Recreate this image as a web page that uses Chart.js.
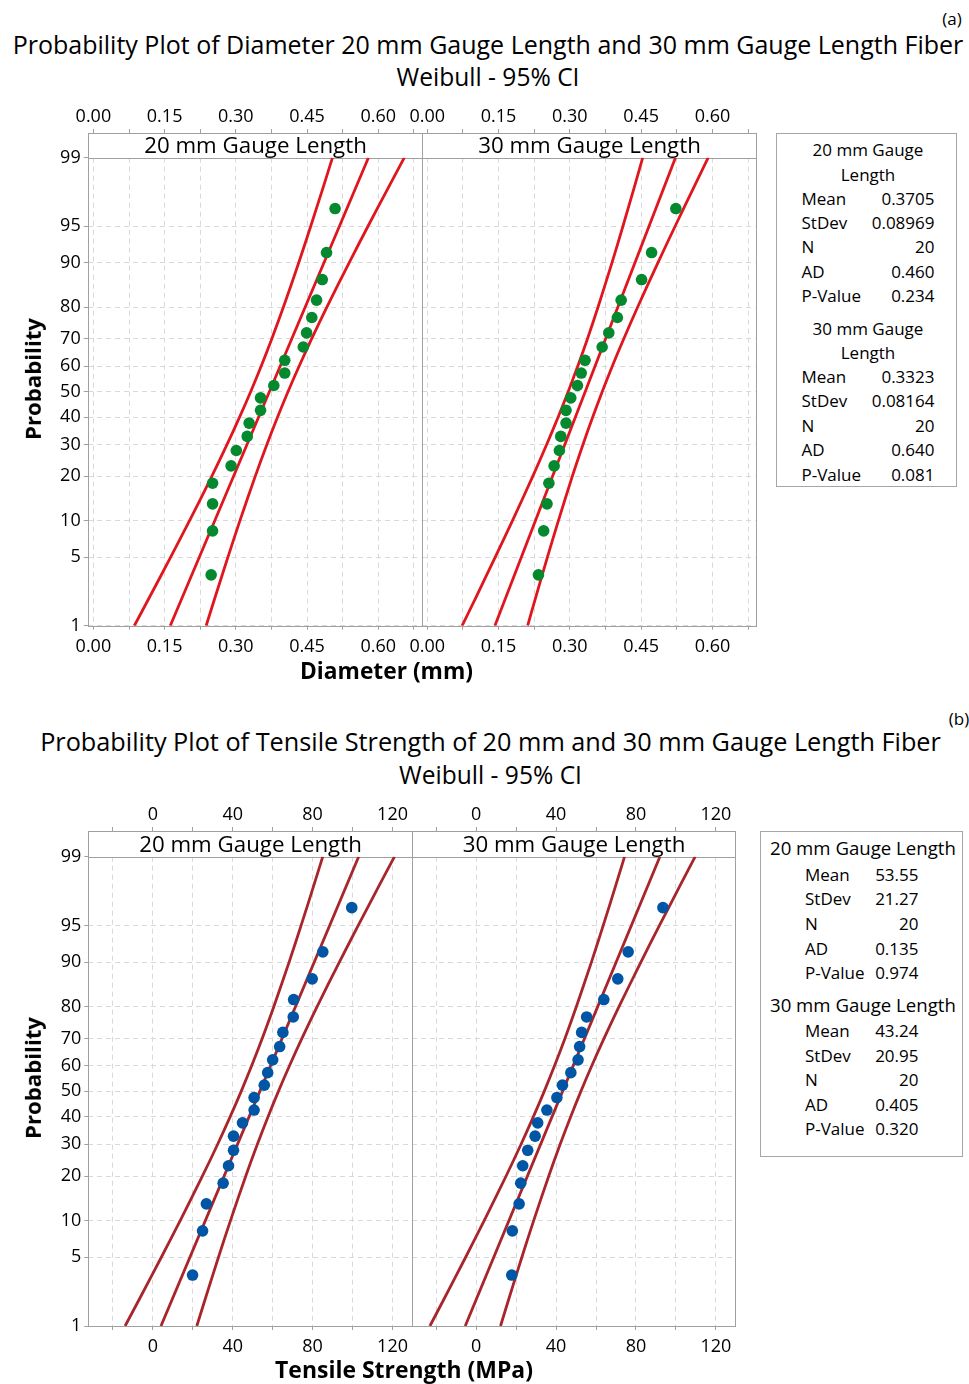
<!DOCTYPE html>
<html><head><meta charset="utf-8">
<script src="https://cdn.jsdelivr.net/npm/chart.js@4.4.1/dist/chart.umd.min.js"></script>
<style>
html,body{margin:0;padding:0;background:#fff;}
body{width:969px;height:1384px;position:relative;overflow:hidden;font-family:'Open Sans',sans-serif;color:#000;}
.t{position:absolute;white-space:nowrap;line-height:1;transform:translate(-50%,-50%);}
canvas{position:absolute;}
.leg{position:absolute;border:1px solid #a6a6a6;box-sizing:border-box;}
.lr{position:absolute;white-space:nowrap;line-height:1;font-size:17px;}
</style></head><body>
<script>
// ---------------- DATA ----------------
// Plotting positions (%) of the 20 ordered observations
const PLOT_POS = [3.43, 8.33, 13.24, 18.14, 23.04, 27.94, 32.84, 37.75, 42.65, 47.55,
                  52.45, 57.35, 62.25, 67.16, 72.06, 76.96, 81.86, 86.76, 91.67, 96.57];
// Diameter (mm)
const DIAM_20 = [0.248, 0.251, 0.251, 0.251, 0.290, 0.301, 0.324, 0.328, 0.352, 0.352,
                 0.380, 0.403, 0.403, 0.442, 0.449, 0.460, 0.470, 0.482, 0.491, 0.509];
const DIAM_30 = [0.234, 0.245, 0.252, 0.256, 0.267, 0.278, 0.281, 0.292, 0.292, 0.302,
                 0.316, 0.324, 0.332, 0.368, 0.382, 0.400, 0.408, 0.451, 0.472, 0.523];
// Tensile strength (MPa)
const TS_20 = [19.9, 24.9, 26.8, 35.2, 37.9, 40.4, 40.4, 44.9, 50.7, 50.7,
               55.8, 57.5, 60.0, 63.5, 65.1, 70.3, 70.5, 79.8, 85.1, 99.6];
const TS_30 = [17.8, 18.1, 21.5, 22.3, 23.3, 25.8, 29.5, 30.8, 35.4, 40.4,
               43.2, 47.4, 51.0, 51.8, 52.8, 55.3, 63.9, 70.9, 76.1, 93.5];
// Fitted line end points and 95% CI curves
const FIT_PROB = [1, 99];
const DIAM_20_FIT = [0.1619, 0.5792];
const DIAM_30_FIT = [0.1424, 0.5222];
const TS_20_FIT = [4.07, 103.03];
const TS_30_FIT = [-5.50, 91.98];
const CI_PROB = [1, 2, 5, 10, 20, 30, 40, 50, 60, 70, 80, 90, 95, 98, 99];
const DIAM_20_LO = [0.0862, 0.1170, 0.1627, 0.2025, 0.2493, 0.2815, 0.3078, 0.3312, 0.3533, 0.3756, 0.4002, 0.4324, 0.4577, 0.4854, 0.5035];
const DIAM_20_HI = [0.2375, 0.2556, 0.2833, 0.3086, 0.3408, 0.3654, 0.3877, 0.4098, 0.4332, 0.4595, 0.4917, 0.5385, 0.5783, 0.6240, 0.6548];
const DIAM_30_LO = [0.0735, 0.1016, 0.1431, 0.1794, 0.2220, 0.2513, 0.2753, 0.2965, 0.3166, 0.3370, 0.3594, 0.3886, 0.4117, 0.4369, 0.4533];
const DIAM_30_HI = [0.2113, 0.2277, 0.2529, 0.2760, 0.3052, 0.3277, 0.3480, 0.3681, 0.3893, 0.4133, 0.4427, 0.4852, 0.5215, 0.5631, 0.5911];
const TS_20_LO = [-13.88, -6.57, 4.26, 13.71, 24.80, 32.46, 38.69, 44.23, 49.47, 54.76, 60.60, 68.23, 74.24, 80.79, 85.08];
const TS_20_HI = [22.02, 26.31, 32.86, 38.87, 46.50, 52.34, 57.63, 62.87, 68.41, 74.64, 82.30, 93.39, 102.84, 113.67, 120.98];
const TS_30_LO = [-23.18, -15.98, -5.30, 4.00, 14.92, 22.46, 28.60, 34.06, 39.22, 44.44, 50.18, 57.70, 63.62, 70.08, 74.30];
const TS_30_HI = [12.18, 16.40, 22.86, 28.78, 36.30, 42.04, 47.26, 52.42, 57.88, 64.02, 71.56, 82.48, 91.78, 102.46, 109.66];
// Axis ticks
const Y_TICKS = [1, 5, 10, 20, 30, 40, 50, 60, 70, 80, 90, 95, 99];
const Y_LABELS = ['1', '5', '10', '20', '30', '40', '50', '60', '70', '80', '90', '95', '99'];
const XA_GRID = [0, 0.075, 0.15, 0.225, 0.30, 0.375, 0.45, 0.525, 0.60, 0.675];
const XA_MAJOR = [0, 0.15, 0.30, 0.45, 0.60];
const XA_LABELS = ['0.00', '0.15', '0.30', '0.45', '0.60'];
const XB_GRID = [-20, 0, 20, 40, 60, 80, 100, 120];
const XB_MAJOR = [0, 40, 80, 120];
const XB_LABELS = ['0', '40', '80', '120'];
const PANEL_NAMES = ['20 mm Gauge Length', '30 mm Gauge Length'];
// Legend (statistics) text
const STATS_A = [['Mean', '0.3705'], ['StDev', '0.08969'], ['N', '20'], ['AD', '0.460'], ['P-Value', '0.234'],
                 ['Mean', '0.3323'], ['StDev', '0.08164'], ['N', '20'], ['AD', '0.640'], ['P-Value', '0.081']];
const STATS_B = [['Mean', '53.55'], ['StDev', '21.27'], ['N', '20'], ['AD', '0.135'], ['P-Value', '0.974'],
                 ['Mean', '43.24'], ['StDev', '20.95'], ['N', '20'], ['AD', '0.405'], ['P-Value', '0.320']];

// ---------------- probability scale ----------------
function probit(p) {
  const a=[-3.969683028665376e+01,2.209460984245205e+02,-2.759285104469687e+02,1.383577518672690e+02,-3.066479806614716e+01,2.506628277459239e+00];
  const b=[-5.447609879822406e+01,1.615858368580409e+02,-1.556989798598866e+02,6.680131188771972e+01,-1.328068155288572e+01];
  const c=[-7.784894002430293e-03,-3.223964580411365e-01,-2.400758277161838e+00,-2.549732539343734e+00,4.374664141464968e+00,2.938163982698783e+00];
  const d=[7.784695709041462e-03,3.224671290700398e-01,2.445134137142996e+00,3.754408661907416e+00];
  const pl = 0.02425;
  let q, r;
  if (p < pl) { q = Math.sqrt(-2*Math.log(p)); return (((((c[0]*q+c[1])*q+c[2])*q+c[3])*q+c[4])*q+c[5])/((((d[0]*q+d[1])*q+d[2])*q+d[3])*q+1); }
  if (p > 1-pl) { q = Math.sqrt(-2*Math.log(1-p)); return -(((((c[0]*q+c[1])*q+c[2])*q+c[3])*q+c[4])*q+c[5])/((((d[0]*q+d[1])*q+d[2])*q+d[3])*q+1); }
  q = p-0.5; r = q*q;
  return (((((a[0]*r+a[1])*r+a[2])*r+a[3])*r+a[4])*r+a[5])*q/(((((b[0]*r+b[1])*r+b[2])*r+b[3])*r+b[4])*r+1);
}
function normcdf(z) {
  const t = 1/(1+0.3275911*Math.abs(z)/Math.SQRT2);
  const y = 1 - (((((1.061405429*t-1.453152027)*t)+1.421413741)*t-0.284496736)*t+0.254829592)*t*Math.exp(-z*z/2);
  return z >= 0 ? (1+y)/2 : (1-y)/2;
}
class ProbitScale extends Chart.LinearScale {
  static id = 'probit';
  static defaults = {};
  getPixelForValue(v) {
    const z0 = probit(this.min/100), z1 = probit(this.max/100);
    return this.getPixelForDecimal((probit(v/100) - z0)/(z1 - z0));
  }
  getValueForPixel(px) {
    const z0 = probit(this.min/100), z1 = probit(this.max/100);
    return 100*normcdf(z0 + this.getDecimalForPixel(px)*(z1 - z0));
  }
}
Chart.register(ProbitScale);
Chart.defaults.font.family = "'Open Sans', sans-serif";
Chart.defaults.color = '#000';

// ---------------- helpers ----------------
const GRID = '#d9d9d9', TICK = '#a0a0a0', FRAME = '#a0a0a0';
const mctx = document.createElement('canvas').getContext('2d');
function txt(s, cx, cy, o) {
  o = o || {};
  const el = document.createElement('div');
  el.className = 't';
  el.textContent = s;
  const weight = o.bold ? 'bold' : 'normal';
  let size = o.size || 16;
  if (o.w) { mctx.font = weight + " 100px 'Open Sans'"; size = 100*o.w/mctx.measureText(s).width; }
  el.style.left = cx + 'px'; el.style.top = cy + 'px';
  el.style.fontSize = size + 'px'; el.style.fontWeight = weight;
  if (o.rot) el.style.transform = 'translate(-50%,-50%) rotate(-90deg)';
  document.body.appendChild(el);
}
function row(s, x, y, align, fitW) {
  const el = document.createElement('div');
  el.className = 'lr';
  el.textContent = s;
  el.style.top = y + 'px';
  if (fitW) { mctx.font = "normal 100px 'Open Sans'"; el.style.fontSize = (100*fitW/mctx.measureText(s).width) + 'px'; }
  if (align === 'right') { el.style.left = x + 'px'; el.style.transform = 'translate(-100%,-50%)'; }
  else if (align === 'center') { el.style.left = x + 'px'; el.style.transform = 'translate(-50%,-50%)'; }
  else { el.style.left = x + 'px'; el.style.transform = 'translate(0,-50%)'; }
  document.body.appendChild(el);
}
const tickCb = (majors, labels) => (v) => {
  const i = majors.findIndex(m => Math.abs(m - v) < 1e-6);
  return i >= 0 ? labels[i] : '';
};
const setTicks = (vals) => (s) => { s.ticks = vals.map(v => ({value: v})); };
const fix = (w, h) => (s) => {
  if (w != null) s.width = w;
  if (h != null) s.height = h;
  s.paddingLeft = 0; s.paddingRight = 0; s.paddingTop = 0; s.paddingBottom = 0;
};
const framePlugin = {
  id: 'frame',
  beforeDatasetsDraw(chart, args, opts) {
    const {ctx, chartArea: a} = chart;
    const h = chart.scales.xh;
    const L = Math.round(a.left) + 0.5, R = Math.round(a.right) + 0.5;
    const T = Math.round(a.top) + 0.5, B = Math.round(a.bottom) + 0.5;
    const HT = Math.round(h.top) + 0.5;
    ctx.save();
    ctx.fillStyle = '#fff';
    ctx.fillRect(L, HT, R - L, T - HT);
    ctx.strokeStyle = FRAME; ctx.lineWidth = 1;
    ctx.strokeRect(L, T, R - L, B - T);
    ctx.strokeRect(L, HT, R - L, T - HT);
    ctx.fillStyle = '#000';
    ctx.font = "22.3px 'Open Sans'";
    ctx.textAlign = 'center'; ctx.textBaseline = 'middle';
    ctx.fillText(opts.title, (L + R)/2, (HT + T)/2 + 1);
    ctx.restore();
  }
};

function panel(o) {
  const cv = document.createElement('canvas');
  cv.width = o.cw; cv.height = o.ch;
  cv.style.left = o.cx + 'px'; cv.style.top = o.cy + 'px';
  cv.style.width = o.cw + 'px'; cv.style.height = o.ch + 'px';
  document.body.appendChild(cv);
  const YW = o.showY ? 40 : 0, TOPH = 30, BOTH = 30;
  const pad = {
    left: o.pl - o.cx - YW,
    right: o.cx + o.cw - o.pr,
    top: o.ht - TOPH - o.cy,
    bottom: o.cy + o.ch - o.pb - BOTH
  };
  const xTicks = (padding) => ({callback: tickCb(o.major, o.labels), autoSkip: false, maxRotation: 0, minRotation: 0,
                                font: {size: 18}, padding: padding, color: '#000'});
  const pts = o.xs.map((x, i) => ({x: x, y: PLOT_POS[i]}));
  const curve = (xs, ps) => xs.map((x, i) => ({x: x, y: ps[i]}));
  const lineDs = (data) => ({data: data, showLine: true, pointRadius: 0, borderColor: o.lineColor,
                             borderWidth: 2.8, tension: 0.3, fill: false, order: 1});
  new Chart(cv, {
    type: 'scatter',
    data: {datasets: [
      {data: pts, pointRadius: 5.8, pointBackgroundColor: o.ptColor, pointBorderWidth: 0, showLine: false, order: 0},
      lineDs(curve(o.fit, FIT_PROB)),
      lineDs(curve(o.lo, CI_PROB)),
      lineDs(curve(o.hi, CI_PROB))
    ]},
    options: {
      responsive: false, animation: false, events: [],
      layout: {padding: pad},
      plugins: {legend: {display: false}, tooltip: {enabled: false}, frame: {title: o.title}},
      scales: {
        x: {type: 'linear', position: 'bottom', min: o.xmin, max: o.xmax, bounds: 'data',
            afterBuildTicks: setTicks(o.grid), afterFit: fix(null, BOTH),
            ticks: xTicks(6),
            grid: {color: GRID, lineWidth: 1, drawTicks: true, tickLength: 4, tickColor: TICK, tickWidth: 1},
            border: {display: false, dash: [5, 4]}},
        xt: {type: 'linear', position: 'top', weight: 2, min: o.xmin, max: o.xmax, bounds: 'data',
             afterBuildTicks: setTicks(o.grid), afterFit: fix(null, TOPH),
             ticks: xTicks(1.5),
             grid: {drawOnChartArea: false, drawTicks: true, tickLength: 4, tickColor: TICK, color: TICK, tickWidth: 1},
             border: {display: false}},
        xh: {type: 'linear', position: 'top', weight: 1, min: o.xmin, max: o.xmax, bounds: 'data',
             afterFit: fix(null, o.pt - o.ht),
             ticks: {display: false}, grid: {display: false}, border: {display: false}},
        y: {type: 'probit', position: 'left', min: 1, max: 99, bounds: 'data',
            afterBuildTicks: setTicks(Y_TICKS), afterFit: fix(YW, null),
            ticks: {display: o.showY, callback: tickCb(Y_TICKS, Y_LABELS), autoSkip: false,
                    font: {size: 18}, padding: 3, color: '#000'},
            grid: {color: GRID, lineWidth: 1, drawTicks: o.showY, tickLength: 4, tickColor: TICK, tickWidth: 1},
            border: {display: false, dash: [5, 4]}}
      }
    },
    plugins: [framePlugin]
  });
}

// ---------------- FIGURE (a) ----------------
txt('(a)', 952, 18, {size: 17});
txt('Probability Plot of Diameter 20 mm Gauge Length and 30 mm Gauge Length Fiber', 488, 45, {w: 951});
txt('Weibull - 95% CI', 488, 77, {w: 183});
const A = {xmin: -0.012, xmax: 0.691, grid: XA_GRID, major: XA_MAJOR, labels: XA_LABELS,
           ht: 133, pt: 157.7, pb: 625.7, ptColor: '#05892f', lineColor: '#e0161e'};
panel(Object.assign({}, A, {cx: 30, cy: 95, cw: 410, ch: 575, pl: 87.7, pr: 421.5, showY: true,
  title: PANEL_NAMES[0], xs: DIAM_20, fit: DIAM_20_FIT, lo: DIAM_20_LO, hi: DIAM_20_HI}));
panel(Object.assign({}, A, {cx: 405, cy: 95, cw: 370, ch: 575, pl: 421.5, pr: 755.7, showY: false,
  title: PANEL_NAMES[1], xs: DIAM_30, fit: DIAM_30_FIT, lo: DIAM_30_LO, hi: DIAM_30_HI}));
txt('Diameter (mm)', 386.5, 671, {w: 173, bold: true});
txt('Probability', 33, 379, {w: 122, bold: true, rot: true});

// legend (a)
(function () {
  const box = document.createElement('div');
  box.className = 'leg';
  Object.assign(box.style, {left: '776px', top: '132.5px', width: '181px', height: '354px'});
  document.body.appendChild(box);
  const Y = [149, 173.5, 197.5, 222, 246, 270.5, 295, 327.5, 352, 375.5, 400, 424.5, 449, 473.5];
  row('20 mm Gauge', 868, Y[0], 'center'); row('Length', 868, Y[1], 'center');
  row('30 mm Gauge', 868, Y[7], 'center'); row('Length', 868, Y[8], 'center');
  const ys = [Y[2], Y[3], Y[4], Y[5], Y[6], Y[9], Y[10], Y[11], Y[12], Y[13]];
  STATS_A.forEach((s, i) => { row(s[0], 801.5, ys[i], 'left'); row(s[1], 934.5, ys[i], 'right'); });
})();

// ---------------- FIGURE (b) ----------------
txt('(b)', 959, 718, {size: 17});
txt('Probability Plot of Tensile Strength of 20 mm and 30 mm Gauge Length Fiber', 490.5, 742, {w: 901});
txt('Weibull - 95% CI', 490.5, 775, {w: 183});
const B = {xmin: -32.3, xmax: 129.6, grid: XB_GRID, major: XB_MAJOR, labels: XB_LABELS,
           ht: 831, pt: 856.7, pb: 1326, ptColor: '#0055a5', lineColor: '#a8262b'};
panel(Object.assign({}, B, {cx: 30, cy: 790, cw: 400, ch: 575, pl: 88.3, pr: 411.7, showY: true,
  title: PANEL_NAMES[0], xs: TS_20, fit: TS_20_FIT, lo: TS_20_LO, hi: TS_20_HI}));
panel(Object.assign({}, B, {cx: 395, cy: 790, cw: 360, ch: 575, pl: 411.7, pr: 735, showY: false,
  title: PANEL_NAMES[1], xs: TS_30, fit: TS_30_FIT, lo: TS_30_LO, hi: TS_30_HI}));
txt('Tensile Strength (MPa)', 404, 1369, {w: 258, bold: true});
txt('Probability', 33, 1078, {w: 122, bold: true, rot: true});

// legend (b)
(function () {
  const box = document.createElement('div');
  box.className = 'leg';
  Object.assign(box.style, {left: '760px', top: '831px', width: '203px', height: '326px'});
  document.body.appendChild(box);
  const Y = [848, 874, 898, 922.5, 947.5, 971.5, 1005, 1030, 1054.5, 1079, 1103.5, 1128];
  row('20 mm Gauge Length', 770, Y[0], 'left', 186);
  row('30 mm Gauge Length', 770, Y[6], 'left', 186);
  const ys = [Y[1], Y[2], Y[3], Y[4], Y[5], Y[7], Y[8], Y[9], Y[10], Y[11]];
  STATS_B.forEach((s, i) => { row(s[0], 805, ys[i], 'left'); row(s[1], 918.5, ys[i], 'right'); });
})();
</script>
</body></html>
